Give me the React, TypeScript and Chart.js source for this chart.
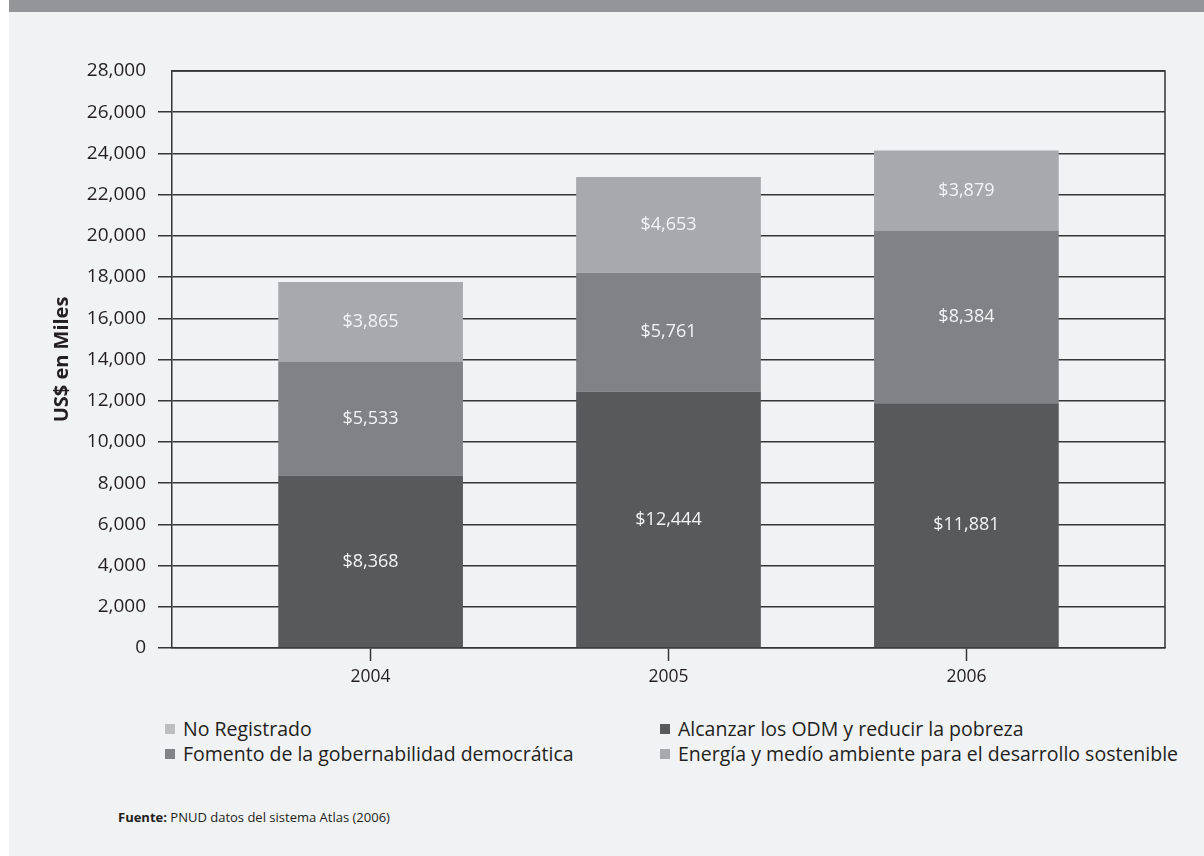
import React, { useEffect, useRef } from 'react';
import { Chart, registerables } from 'chart.js';

Chart.register(...registerables);

// ---- data ----
const years = [2004, 2005, 2006];
const alcanzar = [8368, 12444, 11881];
const fomento = [5533, 5761, 8384];
const energia = [3865, 4653, 3879];
const noRegistrado = [0, 0, 0];
const seriesNames = [
  'Alcanzar los ODM y reducir la pobreza',
  'Fomento de la gobernabilidad democrática',
  'Energía y medío ambiente para el desarrollo sostenible',
  'No Registrado',
];
const seriesColors = ['#58595b', '#808285', '#a7a9ac', '#bcbec0'];
const legendOrder = [3, 0, 1, 2];
const yMax = 28000;
const yStep = 2000;
const yTitle = 'US$ en Miles';
const sourceLabel = 'Fuente:';
const sourceText = ' PNUD datos del sistema Atlas (2006)';

const FONT = '"Open Sans", "Noto Sans", sans-serif';
const LINE = '#353536';

const valueLabels = {
  id: 'valueLabels',
  afterDatasetsDraw(chart: any) {
    const ctx = chart.ctx;
    ctx.save();
    ctx.font = `18px ${FONT}`;
    ctx.fillStyle = '#f4f4f5';
    ctx.textAlign = 'center';
    ctx.textBaseline = 'middle';
    chart.data.datasets.forEach((ds: any, di: number) => {
      const meta = chart.getDatasetMeta(di);
      meta.data.forEach((el: any, i: number) => {
        const v = ds.data[i].y;
        if (!v) return;
        ctx.fillText('$' + v.toLocaleString('en-US'), el.x, (el.y + el.base) / 2);
      });
    });
    ctx.restore();
  },
};

const frameBox = {
  id: 'frameBox',
  afterDatasetsDraw(chart: any) {
    const { ctx, chartArea } = chart;
    ctx.save();
    ctx.strokeStyle = LINE;
    ctx.lineWidth = 1.5;
    ctx.beginPath();
    ctx.moveTo(chartArea.left, chartArea.top);
    ctx.lineTo(chartArea.right, chartArea.top);
    ctx.lineTo(chartArea.right, chartArea.bottom);
    ctx.stroke();
    ctx.restore();
  },
};

function ChartCanvas() {
  const ref = useRef<HTMLCanvasElement>(null);
  useEffect(() => {
    const series = [alcanzar, fomento, energia, noRegistrado];
    const chart = new Chart(ref.current as HTMLCanvasElement, {
      type: 'bar',
      data: {
        datasets: series.map((vals, si) => ({
          label: seriesNames[si],
          data: years.map((yr, i) => ({ x: yr, y: vals[i] })),
          backgroundColor: seriesColors[si],
          borderWidth: 0,
          categoryPercentage: 1,
          barPercentage: 0.62,
        })),
      },
      options: {
        responsive: false,
        animation: false,
        layout: { padding: { top: 59, right: 39, left: 0, bottom: 0 } },
        plugins: {
          legend: { display: false },
          tooltip: { enabled: false },
        },
        scales: {
          x: {
            type: 'linear',
            stacked: true,
            offset: false,
            min: years[0] - 2 / 3,
            max: years[years.length - 1] + 2 / 3,
            afterBuildTicks: (scale: any) => {
              scale.ticks = years.map((v) => ({ value: v }));
            },
            afterFit: (scale: any) => {
              scale.height = 54;
            },
            grid: {
              offset: false,
              drawOnChartArea: false,
              drawTicks: true,
              tickLength: 13,
              tickColor: LINE,
              tickWidth: 1.5,
            },
            border: { color: LINE, width: 1.5 },
            ticks: {
              padding: 6,
              color: '#231f20',
              font: { family: FONT, size: 17.5 },
              callback: (v: any) => String(v),
            },
          },
          y: {
            stacked: true,
            min: 0,
            max: yMax,
            afterFit: (scale: any) => {
              scale.width = 163;
            },
            grid: {
              color: LINE,
              lineWidth: 1.5,
              tickLength: 14,
              tickColor: (c: any) => (c.tick && c.tick.value === yMax ? 'rgba(0,0,0,0)' : LINE),
            },
            border: { color: LINE, width: 1.5 },
            ticks: {
              stepSize: yStep,
              padding: 12,
              color: '#231f20',
              font: { family: FONT, size: 19 },
              callback: (v: any) => Number(v).toLocaleString('en-US'),
            },
            title: {
              display: true,
              text: yTitle,
              color: '#231f20',
              font: { family: FONT, size: 20, weight: 'bold' },
              padding: { top: 41, bottom: 0 },
            },
          },
        },
      },
      plugins: [valueLabels, frameBox],
    } as any);
    return () => chart.destroy();
  }, []);
  return (
    <canvas
      ref={ref}
      width={1195}
      height={690}
      style={{ position: 'absolute', left: 0, top: 12, width: 1195, height: 690 }}
    />
  );
}

export default function App() {
  return (
    <div
      style={{
        position: 'absolute',
        left: 9,
        top: 0,
        width: 1195,
        height: 856,
        background: '#f1f2f4',
        overflow: 'hidden',
        fontFamily: FONT,
        color: '#231f20',
      }}
    >
      <div style={{ position: 'absolute', left: 0, top: 0, width: 1195, height: 12, background: '#939598' }} />
      <ChartCanvas />
      <div
        style={{
          position: 'absolute',
          left: 156,
          top: 716,
          display: 'grid',
          gridTemplateColumns: '495px auto',
          gridAutoRows: '25px',
          fontSize: 19.5,
          lineHeight: '25px',
        }}
      >
        {legendOrder.map((si) => (
          <div key={si} style={{ display: 'flex', alignItems: 'center', whiteSpace: 'nowrap' }}>
            <span
              style={{
                display: 'inline-block',
                width: 10,
                height: 10,
                background: seriesColors[si],
                marginRight: 8,
              }}
            />
            <span>{seriesNames[si]}</span>
          </div>
        ))}
      </div>
      <div style={{ position: 'absolute', left: 109, top: 807, fontSize: 13, lineHeight: '20px' }}>
        <b>{sourceLabel}</b>
        {sourceText}
      </div>
    </div>
  );
}
